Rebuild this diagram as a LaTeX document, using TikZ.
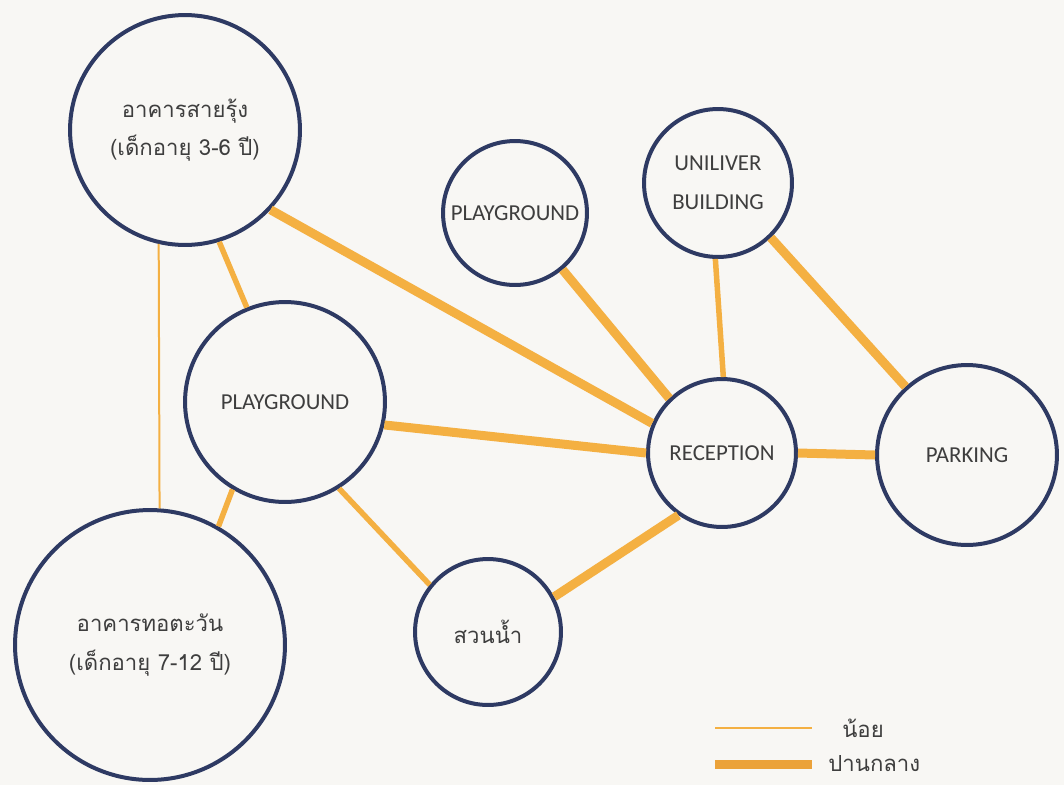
\documentclass[tikz,border=0pt]{standalone}
\usepackage{fontspec}
\setmainfont{Carlito}
\newfontfamily\thaifont[Script=Thai]{Loma}
\usetikzlibrary{positioning}
\definecolor{navyring}{HTML}{2E3A63}
\definecolor{linkorange}{HTML}{F4B042}
\definecolor{keyorange}{HTML}{EBA23A}
\definecolor{labelgray}{HTML}{3E3E3E}
\definecolor{paper}{HTML}{F8F7F4}
\tikzset{
      zone/.style = {circle, draw=navyring, line width=0.08cm,
                     minimum size=#1*0.04cm, inner sep=0pt, align=center,
                     text=labelgray, font=\fontsize{13}{22}\selectfont},
    thzone/.style = {zone=#1, font=\thaifont\fontsize{12.6}{22}\selectfont},
       low/.style = {draw=linkorange, line width=0.04cm},   % thin link
       mid/.style = {draw=linkorange, line width=0.11cm},
      high/.style = {draw=linkorange, line width=0.18cm},
    keytxt/.style = {text=labelgray, inner sep=0pt,
                     font=\thaifont\fontsize{12.6}{14}\selectfont},
}

\begin{document}
\begin{tikzpicture}[x=0.02cm,y=-0.02cm]
\fill[paper] (0,0) rectangle (1064,785);
\useasboundingbox (0,0) rectangle (1064,785);
% zones
\node[thzone=115] (sairung)   at (185,130) {อาคารสายรุ้ง\\(เด็กอายุ 3-6 ปี)};
\node[thzone=135] (thotawan)  at (150,645) {อาคารทอตะวัน\\(เด็กอายุ 7-12 ปี)};
\node[zone=100]   (playbig)   at (285,402) {PLAYGROUND};
\node[zone=72]    (playsmall) at (515,213) {PLAYGROUND};
\node[zone=74]    (unilever)  at (718,183) {UNILIVER\\BUILDING};
\node[zone=74]    (reception) at (722,453) {RECEPTION};
\node[zone=90]    (parking)   at (967,455) {PARKING};
\node[thzone=73]  (suannam)   at (488,632) {สวนน้ำ};
% links
\draw[low]  (sairung.-103.6) -- (thotawan.86.6);
\draw[mid]  (sairung.-73.7)  -- (playbig.112.4);
\draw[high] (sairung.-43.3)  -- (reception.157);
\draw[mid]  (playbig.-121.6) -- (thotawan.60.8);
\draw[mid]  (playbig.-58.8)  -- (suannam.141.2);
\draw[high] (playbig.-13.3)  -- (reception.180);
\draw[high] (playsmall.-50.9) -- (reception.134);
\draw[mid]  (unilever.-92)   -- (reception.89);
\draw[high] (unilever.-46.6) -- (parking.132.4);
\draw[high] (reception.0)    -- (parking.180);
\draw[high] (reception.-125.4) -- (suannam.28.3);
% key
\coordinate (lowA) at (715,728);
\coordinate (lowB) at (812,728);
\draw[low] (lowA) -- (lowB);
\node[keytxt, anchor=west] (lowkey) at (842,728) {น้อย};
\coordinate (midA) at (715,764);
\coordinate (midB) at (812,764);
\draw[high, draw=keyorange] (midA) -- (midB);
\node[keytxt, anchor=west] (midkey) at (828,764) {ปานกลาง};
\end{tikzpicture}
\end{document}
